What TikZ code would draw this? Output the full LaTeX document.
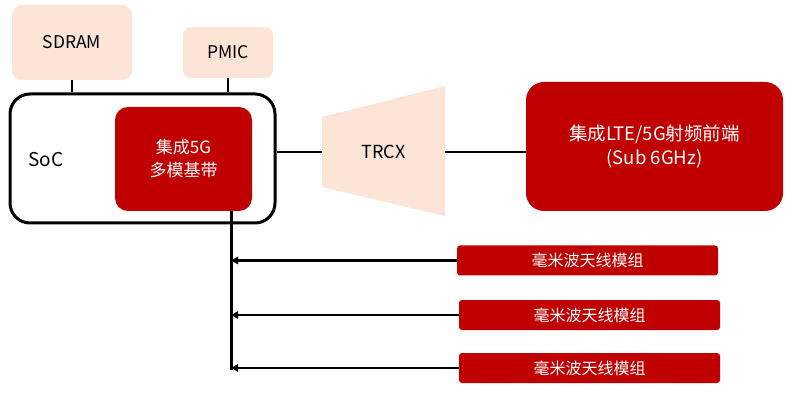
\documentclass[tikz,border=0pt]{standalone}
\usepackage{fontspec}
\setmainfont{Noto Sans CJK SC}
\usepackage{xcolor}
\usetikzlibrary{arrows.meta,positioning,calc}
\definecolor{peach}{HTML}{FCE4D6}
\definecolor{darkred}{HTML}{C00000}

\begin{document}
\begin{tikzpicture}[x=1pt, y=-1pt,
  soft/.style={fill=peach, rounded corners=10pt, align=center, font=\fontsize{17.5}{20}\selectfont},
  chip/.style={fill=darkred, text=white, align=center, font=\fontsize{17}{23}\selectfont},
  module/.style={chip, rounded corners=3pt, minimum width=261pt, minimum height=30pt,
                 font=\fontsize{16}{18}\selectfont},
  wire/.style={line width=2pt},
  arr/.style={-{Triangle[length=2.5mm, width=2.6mm]}, line width=2.4pt}]
\useasboundingbox (0,0) rectangle (800,395);
\node[soft, minimum width=120pt, minimum height=75pt] (sdram) at (72,42.5) {SDRAM};
\node[soft, minimum width=90pt, minimum height=51pt, rounded corners=8pt] (pmic) at (228,52.5) {PMIC};
\node[draw, line width=3pt, rounded corners=20pt, minimum width=265pt, minimum height=129pt] (soc) at (142.5,158.5) {};
\node[font=\fontsize{19}{22}\selectfont] (soclbl) at (46,160) {SoC};
\node[chip, rounded corners=13pt, minimum width=137pt, minimum height=104pt] (bb) at (183.5,159) {集成5G\\多模基带};
% TRCX trapezoid
\fill[peach] (322,117) -- (445,86) -- (445,216) -- (322,187) -- cycle;
\node[minimum width=123pt, minimum height=70pt, inner sep=0pt, font=\fontsize{18}{20}\selectfont] (trcx) at (383.5,152) {TRCX};
\node[chip, rounded corners=18pt, minimum width=257pt, minimum height=129pt,
      font=\fontsize{18.5}{24}\selectfont] (rf) at (654.5,146.5) {集成LTE/5G射频前端\\(Sub 6GHz)};
\node[module] (mw1) at (587.5,260.5) {毫米波天线模组};
\node[module] (mw2) at (589.5,315) {毫米波天线模组};
\node[module] (mw3) at (589.5,368) {毫米波天线模组};
\coordinate (bus) at (231,370);
\draw[wire] (sdram.south) -- (sdram.south |- soc.north);
\draw[wire] (pmic.south) -- (pmic.south |- soc.north);
\draw[wire] (soc.east |- trcx.west) -- (trcx.west);
\draw[wire] (trcx.east) -- (trcx.east -| rf.west);
\draw[line width=3pt] (bb.south -| bus) -- (bus);
\draw[arr] (mw1.west) -- (mw1.west -| bus);
\draw[arr] (mw2.west) -- (mw2.west -| bus);
\draw[arr] (mw3.west) -- (mw3.west -| bus);
\end{tikzpicture}
\end{document}
